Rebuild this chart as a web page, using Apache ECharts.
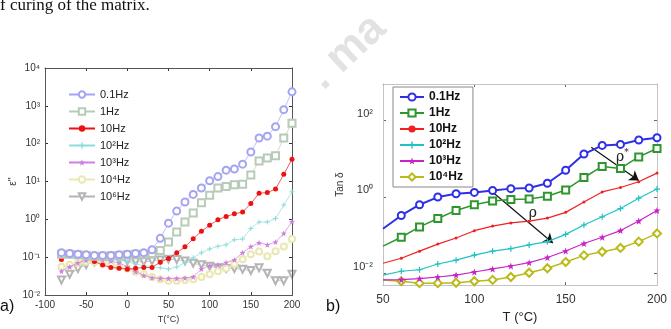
<!DOCTYPE html>
<html>
<head>
<meta charset="utf-8">
<script src="https://cdn.jsdelivr.net/npm/echarts@6/dist/echarts.min.js"></script>
<style>
html, body { margin: 0; padding: 0; background: #fff; }
#chart { width: 671px; height: 329px; }
</style>
</head>
<body>
<div id="chart"></div>
<script>
// a) permittivity loss vs temperature
const tempA = [-80, -70, -60, -50, -40, -30, -20, -10, 0, 10, 20, 30, 40, 50, 60, 70, 80, 90, 100, 110, 120, 130, 140, 150, 160, 170, 180, 190, 200];
const namesA = ['0.1Hz', '1Hz', '10Hz', '10²Hz', '10³Hz', '10⁴Hz', '10⁶Hz'];
const epsA01 = [0.132, 0.126, 0.120, 0.117, 0.112, 0.112, 0.112, 0.117, 0.120, 0.126, 0.132, 0.158, 0.316, 0.794, 1.66, 2.88, 4.57, 6.76, 10.5, 13.5, 20.0, 21.4, 28.8, 60.3, 141, 158, 282, 794, 2344];
const epsA1 = [0.120, 0.120, 0.117, 0.112, 0.107, 0.107, 0.110, 0.112, 0.117, 0.120, 0.120, 0.126, 0.151, 0.251, 0.468, 0.851, 1.48, 2.75, 4.37, 6.76, 7.41, 8.22, 8.51, 14.8, 34.7, 41.7, 47.9, 141, 347];
const epsA10 = [0.0871, 0.120, 0.120, 0.102, 0.0776, 0.0624, 0.0537, 0.0513, 0.0484, 0.0513, 0.0537, 0.0537, 0.0741, 0.0933, 0.132, 0.188, 0.307, 0.484, 0.701, 0.982, 1.19, 1.40, 1.57, 2.62, 4.90, 5.13, 6.31, 15.5, 38.9];
const epsA100 = [0.100, 0.105, 0.107, 0.105, 0.100, 0.0955, 0.0891, 0.0832, 0.0759, 0.0661, 0.0603, 0.0562, 0.0525, 0.0490, 0.0550, 0.0724, 0.0977, 0.132, 0.166, 0.195, 0.214, 0.288, 0.302, 0.575, 0.851, 0.851, 1.05, 2.40, 5.37];
const epsA1k = [0.0427, 0.0562, 0.0708, 0.0832, 0.0891, 0.0851, 0.0794, 0.0708, 0.0562, 0.0417, 0.0331, 0.0288, 0.0275, 0.0275, 0.0275, 0.0282, 0.0302, 0.0490, 0.0603, 0.0631, 0.0724, 0.0851, 0.132, 0.191, 0.240, 0.214, 0.251, 0.427, 0.871];
const epsA10k = [0.0562, 0.0631, 0.0708, 0.0759, 0.0759, 0.0708, 0.0631, 0.0562, 0.0501, 0.0417, 0.0355, 0.0302, 0.0263, 0.0240, 0.0240, 0.0251, 0.0263, 0.0302, 0.0355, 0.0427, 0.0501, 0.0661, 0.0891, 0.120, 0.141, 0.107, 0.145, 0.191, 0.302];
const epsA1M = [0.0251, 0.0355, 0.0501, 0.0631, 0.0759, 0.0832, 0.0871, 0.0851, 0.0794, 0.0759, 0.0759, 0.0794, 0.0851, 0.0891, 0.0871, 0.0794, 0.0692, 0.0631, 0.0575, 0.0525, 0.0501, 0.0501, 0.0479, 0.0447, 0.0525, 0.0380, 0.0240, 0.0240, 0.0355];
const yTickValsA = [0.01, 0.1, 1, 10, 100, 1000, 10000];
const yTickTextA = ['10⁻²', '10⁻¹', '10⁰', '10¹', '10²', '10³', '10⁴'];

// b) tan delta vs temperature
const tempB = [50, 60, 70, 80, 90, 100, 110, 120, 130, 140, 150, 160, 170, 180, 190, 200];
const namesB = ['0.1Hz', '1Hz', '10Hz', '10²Hz', '10³Hz', '10⁴Hz'];
const tanB01 = [0.148, 0.33, 0.63, 1.0, 1.22, 1.32, 1.48, 1.66, 1.72, 2.29, 5.0, 13.3, 22.4, 23.7, 30.9, 35.5];
const tanB1 = [0.052, 0.089, 0.166, 0.275, 0.447, 0.63, 0.79, 0.86, 0.89, 1.05, 1.53, 3.24, 6.3, 5.6, 11.2, 18.6];
const tanB10 = [0.0186, 0.0251, 0.0385, 0.0589, 0.0851, 0.132, 0.174, 0.211, 0.234, 0.282, 0.398, 0.741, 1.36, 1.78, 2.51, 4.22];
const tanB100 = [0.0091, 0.0115, 0.0126, 0.0178, 0.0224, 0.0305, 0.0385, 0.0447, 0.0562, 0.0684, 0.106, 0.186, 0.305, 0.501, 0.933, 1.62];
const tanB1k = [0.00684, 0.00692, 0.00741, 0.00813, 0.00912, 0.011, 0.0132, 0.0158, 0.0193, 0.0263, 0.0389, 0.061, 0.0891, 0.133, 0.237, 0.447];
const tanB10k = [0.00684, 0.00631, 0.00562, 0.00562, 0.00575, 0.00631, 0.00684, 0.00813, 0.0105, 0.0138, 0.02, 0.0299, 0.0372, 0.0468, 0.0684, 0.112];
const yTickValsB = [0.01, 1, 100];
const yTickTextB = ['10⁻²', '10⁰', '10²'];
const arrowRho = [[108, 1.62], [143, 0.063]];
const arrowRhoStar = [[164, 20], [190, 2.72]];
const labelRho = [132, 0.37];
const labelRhoStar = [181, 11.2];

const plusPath = 'path://M4,0H6V4H10V6H6V10H4V6H0V4H4Z';
const starPath = 'path://M5,0L6.2,3.4L10,3.6L7,5.9L8.1,9.5L5,7.4L1.9,9.5L3,5.9L0,3.6L3.8,3.4Z';

function tickLabel(vals, texts) {
    return function (v) {
        const i = vals.findIndex(t => Math.abs(t - v) / t < 1e-6);
        return i < 0 ? '' : texts[i];
    };
}

function pairs(xs, ys, hideFirst) {
    return xs.map((x, i) => (hideFirst && i === 0) ? { value: [x, ys[i]], symbolSize: 0 } : [x, ys[i]]);
}

const chart = echarts.init(document.getElementById('chart'));

const styleA = [
    { color: '#a4a4f2', symbol: 'emptyCircle', size: 7 },
    { color: '#b8cab8', symbol: 'emptyRect', size: 7 },
    { color: '#ee1111', symbol: 'circle', size: 5 },
    { color: '#8edcdc', symbol: plusPath, size: 5 },
    { color: '#d07ee0', symbol: starPath, size: 6 },
    { color: '#e8e8b0', symbol: 'emptyCircle', size: 6 },
    { color: '#b4b4b4', symbol: 'emptyTriangle', size: 7, rotate: 180 }
];
const dataA = [epsA01, epsA1, epsA10, epsA100, epsA1k, epsA10k, epsA1M];

const styleB = [
    { color: '#2f2fe6', symbol: 'emptyCircle', size: 7, width: 2 },
    { color: '#2e962e', symbol: 'emptyRect', size: 7, width: 1.5 },
    { color: '#ee2222', symbol: 'circle', size: 3, width: 1.2 },
    { color: '#22c2c2', symbol: plusPath, size: 6, width: 1.2 },
    { color: '#c822c8', symbol: starPath, size: 7, width: 1.2 },
    { color: '#baba18', symbol: 'emptyDiamond', size: 8, width: 1.5 }
];
const dataB = [tanB01, tanB1, tanB10, tanB100, tanB1k, tanB10k];

const seriesA = namesA.map((n, k) => ({
    name: 'a:' + n,
    type: 'line',
    xAxisIndex: 0,
    yAxisIndex: 0,
    data: pairs(tempA, dataA[k], false),
    symbol: styleA[k].symbol,
    symbolSize: styleA[k].size,
    symbolRotate: styleA[k].rotate || 0,
    itemStyle: { color: styleA[k].color, borderWidth: 0.8 },
    lineStyle: { color: styleA[k].color, width: 0.7 },
    z: 10 - k
}));

const seriesB = namesB.map((n, k) => ({
    name: 'b:' + n,
    type: 'line',
    xAxisIndex: 2,
    yAxisIndex: 2,
    data: pairs(tempB, dataB[k], true),
    symbol: styleB[k].symbol,
    symbolSize: styleB[k].size,
    itemStyle: { color: styleB[k].color, borderWidth: 1.5 },
    lineStyle: { color: styleB[k].color, width: styleB[k].width },
    z: 10 - k
}));

seriesB[0].markLine = {
    silent: true,
    symbol: ['none', 'arrow'],
    symbolSize: 9,
    label: { show: false },
    lineStyle: { color: '#111', width: 1.2, type: 'solid' },
    data: [
        [{ coord: arrowRho[0] }, { coord: arrowRho[1] }],
        [{ coord: arrowRhoStar[0] }, { coord: arrowRhoStar[1] }]
    ]
};
seriesB[0].markPoint = {
    silent: true,
    symbolSize: 0,
    label: {
        show: true,
        color: '#222',
        rich: {
            r: { fontSize: 14, fontFamily: 'DejaVu Serif', lineHeight: 18 },
            s: { fontSize: 9, fontFamily: 'DejaVu Serif', verticalAlign: 'top', lineHeight: 18 }
        }
    },
    data: [
        { coord: labelRho, label: { formatter: '{r|ρ}' } },
        { coord: labelRhoStar, label: { formatter: '{r|ρ}{s|*}' } }
    ]
};

function axisLineOf(color) {
    return { show: true, onZero: false, lineStyle: { color: color, width: 1 } };
}
function tickOf(color) {
    return { show: true, inside: true, length: 3, lineStyle: { color: color, width: 1 } };
}

const option = {
    animation: false,
    textStyle: { fontFamily: 'Liberation Sans, Arial, sans-serif' },
    grid: [
        { left: 45, top: 68, width: 247, height: 234 },
        { left: 383, top: 84, width: 274, height: 211 }
    ],
    legend: [
        {
            data: namesA.map(n => 'a:' + n),
            formatter: n => n.slice(2),
            orient: 'vertical',
            left: 64,
            top: 87,
            itemWidth: 26,
            itemHeight: 8,
            itemGap: 6,
            padding: [2, 4],
            textStyle: { fontSize: 11, color: '#222' }
        },
        {
            data: namesB.map(n => 'b:' + n),
            formatter: n => n.slice(2),
            orient: 'vertical',
            left: 393,
            top: 87,
            itemWidth: 24,
            itemHeight: 9,
            itemGap: 4,
            padding: [4, 10, 4, 6],
            borderColor: '#888',
            borderWidth: 1,
            backgroundColor: '#fff',
            textStyle: { fontSize: 12, fontWeight: 'bold', color: '#111' }
        }
    ],
    xAxis: [
        {
            gridIndex: 0, type: 'value', min: -100, max: 200, interval: 50,
            name: 'T(°C)', nameLocation: 'middle', nameGap: 19,
            nameTextStyle: { fontSize: 9, color: '#333' },
            axisLine: axisLineOf('#777'),
            axisTick: tickOf('#333'),
            axisLabel: { fontSize: 10, color: '#333', margin: 5 },
            splitLine: { show: false }
        },
        {
            gridIndex: 0, type: 'value', min: -100, max: 200, interval: 50, position: 'top',
            axisLine: axisLineOf('#444'),
            axisTick: tickOf('#333'),
            axisLabel: { show: false },
            splitLine: { show: false }
        },
        {
            gridIndex: 1, type: 'value', min: 50, max: 200, interval: 50,
            name: 'T (°C)', nameLocation: 'middle', nameGap: 22,
            nameTextStyle: { fontSize: 13, color: '#222' },
            axisLine: axisLineOf('#c4c4c4'),
            axisTick: tickOf('#666'),
            axisLabel: { fontSize: 12, color: '#333', margin: 9 },
            splitLine: { show: false }
        },
        {
            gridIndex: 1, type: 'value', min: 50, max: 200, interval: 50, position: 'top',
            axisLine: axisLineOf('#c4c4c4'),
            axisTick: tickOf('#666'),
            axisLabel: { show: false },
            splitLine: { show: false }
        }
    ],
    yAxis: [
        {
            gridIndex: 0, type: 'log', logBase: 10, min: 0.01, max: 10000,
            name: "ε''", nameLocation: 'middle', nameGap: 24,
            nameTextStyle: { fontSize: 10, color: '#333' },
            axisLine: axisLineOf('#777'),
            axisTick: tickOf('#333'),
            axisLabel: { fontSize: 10, color: '#333', margin: 5, formatter: tickLabel(yTickValsA, yTickTextA) },
            splitLine: { show: false }
        },
        {
            gridIndex: 0, type: 'log', logBase: 10, min: 0.01, max: 10000, position: 'right',
            axisLine: axisLineOf('#444'),
            axisTick: tickOf('#333'),
            axisLabel: { show: false },
            splitLine: { show: false }
        },
        {
            gridIndex: 1, type: 'log', logBase: 10, min: 0.005, max: 900,
            name: 'Tan δ', nameLocation: 'middle', nameGap: 38,
            nameTextStyle: { fontSize: 10, color: '#333' },
            axisLine: axisLineOf('#c4c4c4'),
            axisTick: Object.assign(tickOf('#666'), { customValues: yTickValsB }),
            axisLabel: {
                fontSize: 11, color: '#333', margin: 10, verticalAlign: 'bottom', lineHeight: 14,
                customValues: yTickValsB, formatter: tickLabel(yTickValsB, yTickTextB)
            },
            splitLine: { show: false }
        },
        {
            gridIndex: 1, type: 'log', logBase: 10, min: 0.005, max: 900, position: 'right',
            axisLine: axisLineOf('#c4c4c4'),
            axisTick: Object.assign(tickOf('#666'), { customValues: yTickValsB }),
            axisLabel: { show: false },
            splitLine: { show: false }
        }
    ],
    graphic: [
        { type: 'text', left: 0, top: -3, style: { text: 'f curing of the matrix.', font: '17px "Liberation Serif"', fill: '#111' } },
        { type: 'text', left: 0, top: 299, style: { text: 'a)', font: '16px "Liberation Sans"', fill: '#111' } },
        { type: 'text', left: 326, top: 299, style: { text: 'b)', font: '16px "Liberation Sans"', fill: '#111' } },
        { type: 'text', x: 300, y: 66, rotation: 0.75, z: -10, style: { text: '. ma', font: 'bold 44px "Liberation Sans"', fill: '#e2e2e2' } }
    ],
    series: seriesA.concat(seriesB)
};

chart.setOption(option);

// plot frames, placed from each grid's own corners
function frameFor(gridIndex, corner0, corner1, color, id) {
    const p0 = chart.convertToPixel({ gridIndex: gridIndex }, corner0);
    const p1 = chart.convertToPixel({ gridIndex: gridIndex }, corner1);
    return {
        id: id, type: 'rect', z: 5, silent: true,
        shape: { x: Math.round(p0[0]) + 0.5, y: Math.round(p1[1]) + 0.5, width: Math.round(p1[0] - p0[0]), height: Math.round(p0[1] - p1[1]) },
        style: { fill: null, stroke: color, lineWidth: 1 }
    };
}
chart.setOption({
    graphic: [
        frameFor(0, [-100, 0.01], [200, 10000], '#555', 'frameA'),
        frameFor(1, [50, 0.005], [200, 900], '#c4c4c4', 'frameB')
    ]
});
</script>
</body>
</html>
